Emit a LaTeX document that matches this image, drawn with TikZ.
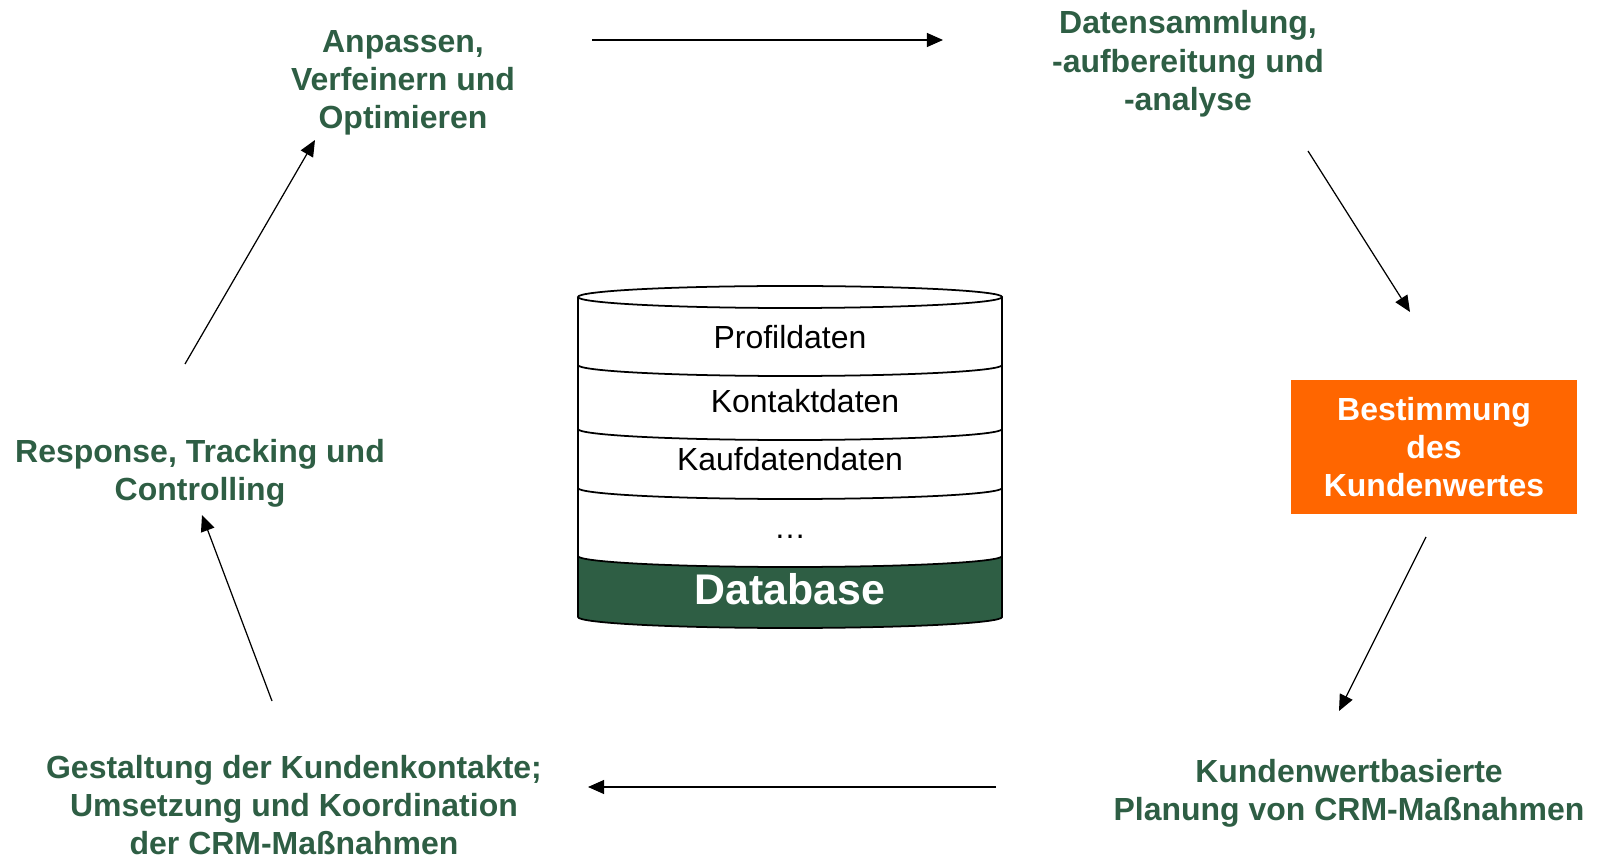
\documentclass[tikz,border=0pt]{standalone}
\usepackage{fontspec}
\setmainfont{Liberation Sans}
\usepackage{xcolor}
\usetikzlibrary{arrows.meta, positioning}
\definecolor{crmgreen}{RGB}{46, 94, 68}
\definecolor{crmorange}{RGB}{255, 102, 0}

\begin{document}
\begin{tikzpicture}[
    phase/.style={
        align=center,
        text=crmgreen,
        font=\fontsize{9.1}{10.9}\selectfont\bfseries,
        inner sep=0pt
    },
    valuebox/.style={
        rectangle,
        fill=crmorange,
        minimum width=2.86cm,
        minimum height=1.34cm,
        align=center,
        text=white,
        font=\fontsize{9.1}{10.9}\selectfont\bfseries
    },
    dbtext/.style={
        anchor=base,
        font=\fontsize{9.1}{11}\selectfont,
        inner sep=0pt
    },
    arrow/.style={
        -{Triangle[length=4.6pt,width=4pt]},
        line width=0.35pt,
        black
    }
]
\useasboundingbox (0,0) rectangle (15.99,8.57);

% Database cylinder
\fill[crmgreen] (5.78,3.01) arc[start angle=180, end angle=360, x radius=2.12, y radius=0.11]
    -- (10.02,2.40) arc[start angle=0, end angle=-180, x radius=2.12, y radius=0.11] -- cycle;
\draw[line width=0.5pt] (5.78,5.60) -- (5.78,2.40)
    arc[start angle=180, end angle=360, x radius=2.12, y radius=0.11] -- (10.02,5.60);
\draw[line width=0.5pt] (7.90,5.60) ellipse[x radius=2.12, y radius=0.11];
\foreach \y in {4.92, 4.28, 3.69, 3.01}
    \draw[line width=0.5pt] (5.78,\y) arc[start angle=180, end angle=360, x radius=2.12, y radius=0.11];

% Database layers
\node[dbtext] (profil) at (7.90,5.08) {Profildaten};
\node[dbtext] (kontakt) at (8.05,4.44) {Kontaktdaten};
\node[dbtext] (kauf) at (7.90,3.86) {Kaufdatendaten};
\node[dbtext] (more) at (7.90,3.18) {\ldots};
\node[dbtext, text=white, font=\fontsize{12.2}{14}\selectfont\bfseries] (db) at (7.90,2.52) {Database};

% Cycle phases
\node[phase] (anpassen) at (4.03,7.74) {Anpassen,\\Verfeinern und\\Optimieren};
\node[phase] (daten) at (11.88,7.93) {Datensammlung,\\-aufbereitung und\\-analyse};
\node[valuebox] (wert) at (14.34,4.10) {Bestimmung\\des\\Kundenwertes};
\node[phase] (planung) at (13.49,0.64) {Kundenwertbasierte\\Planung von CRM-Maßnahmen};
\node[phase] (gestaltung) at (2.94,0.52) {Gestaltung der Kundenkontakte;\\Umsetzung und Koordination\\der CRM-Maßnahmen};
\node[phase] (response) at (2.00,3.84) {Response, Tracking und\\Controlling};

% Arrow end points
\coordinate (a1s) at (5.92,8.17);
\coordinate (a1e) at (9.43,8.17);
\coordinate (a2s) at (13.08,7.06);
\coordinate (a2e) at (14.10,5.45);
\coordinate (a3s) at (14.26,3.20);
\coordinate (a3e) at (13.39,1.46);
\coordinate (a4s) at (9.96,0.70);
\coordinate (a4e) at (5.88,0.70);
\coordinate (a5s) at (2.72,1.56);
\coordinate (a5e) at (2.02,3.42);
\coordinate (a6s) at (1.85,4.93);
\coordinate (a6e) at (3.15,7.17);

% Connections
\draw[arrow] (a1s) -- (a1e);
\draw[arrow] (a2s) -- (a2e);
\draw[arrow] (a3s) -- (a3e);
\draw[arrow] (a4s) -- (a4e);
\draw[arrow] (a5s) -- (a5e);
\draw[arrow] (a6s) -- (a6e);

\end{tikzpicture}
\end{document}
